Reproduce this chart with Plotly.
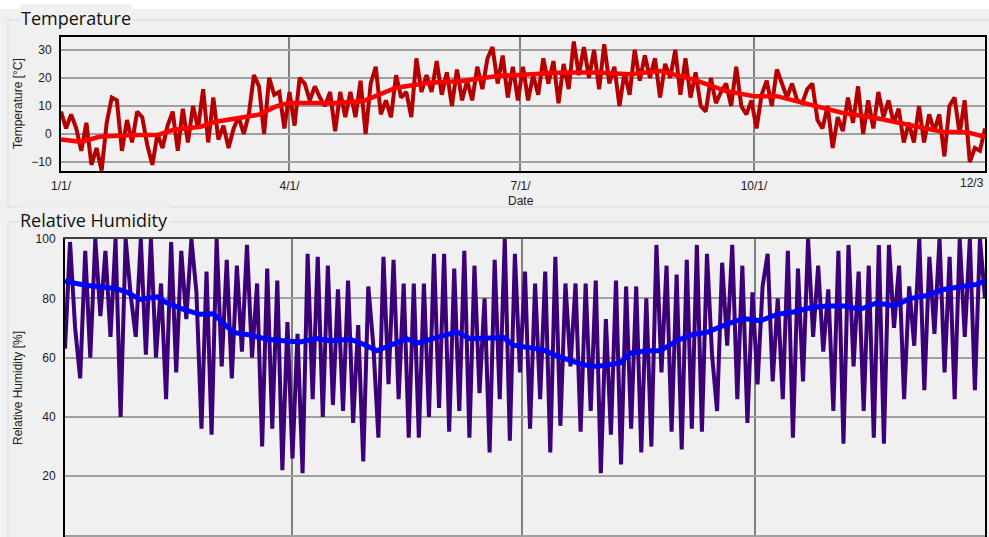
import pandas as pd
import plotly.graph_objects as go

# ---------------- data ----------------
BASE = "2011-01-01"
tick_dates = ["2011-01-01", "2011-04-01", "2011-07-01", "2011-10-01"]
tick_labels = ["1/1/", "4/1/", "7/1/", "10/1/"]

# raw daily temperature, sampled every 2 days from 1 Jan
temp_step_days = 2
temp_raw = [8, 2, 7, 2, -6, 4, -11, -5, -13, 4, 13, 12, -6, 5, -3, 8, 6, -4, -11, 0,
            -5, 3, 8, -6, 9, -3, 10, 2, 16, -3, 13,
            -2, 3, -5, 2, 6, 0, 7, 21, 17, 0, 20, 14, 15, 2, 15, 3, 20, 18, 12, 17,
            13, 10, 15, 1, 15, 6, 15, 6, 19, 0,
            18, 24, 7, 12, 6, 21, 13, 15, 6, 27, 15, 21, 15, 26, 14, 22, 10, 23, 12, 19,
            12, 24, 16, 27, 31, 18, 28, 13, 24, 12,
            24, 12, 21, 14, 27, 18, 26, 11, 25, 16, 33, 21, 31, 20, 30, 16, 32, 18, 24, 10,
            22, 14, 30, 19, 28, 20, 27, 13, 25, 20, 30,
            14, 27, 13, 22, 10, 8, 20, 11, 15, 18, 10, 24, 10, 7, 12, 2, 14, 19, 10, 23,
            18, 13, 18, 12, 11, 16, 18, 5, 2, 10,
            -5, 6, 1, 13, 4, 17, 0, 12, 2, 15, 6, 12, 4, 9, -3, 4, -3, 10, -3, 7,
            1, 7, -8, 10, 13, 0, 12, -10, -5, -6, 2]

temp_smooth_days = [0, 8, 15, 28, 38, 44, 55, 61, 70, 78, 85, 90, 101, 106, 119, 132, 145,
                    158, 172, 185, 198, 211, 224, 236, 249, 262, 273, 282, 295, 308, 321,
                    334, 347, 357, 364]
temp_smooth = [-2, -2.8, -1, -0.4, -0.4, 1.4, 2.6, 4.4, 5.7, 6.9, 9.9, 11.1, 11.1, 11, 11.7,
               16.5, 18.3, 18.9, 20.7, 21.3, 21.9, 21.9, 21.3, 22.5, 19.5, 15.3, 13.5, 13.5,
               10.5, 7.5, 5.7, 3.2, 0.8, 0.6, -1]

# raw relative humidity, sampled every 2 days from 1 Jan
rh_raw = [63, 99, 70, 53, 96, 60, 100, 74, 96, 67, 100, 40, 100, 81, 67, 100, 61, 100, 60, 85,
          46, 99, 55, 96, 73, 100, 82, 36, 89, 34, 100, 57, 93, 53, 91, 62, 98, 60, 85, 30,
          90, 36, 86, 22, 72, 26, 68, 21, 95, 46, 94, 40, 91,
          44, 83, 42, 86, 38, 71, 25, 84, 64, 33, 94, 51, 93, 46, 85, 33, 85, 33, 85, 40,
          95, 43, 95, 35, 90, 42, 96, 33, 91, 48, 80, 28, 93, 46, 100, 32, 95, 55, 89, 36,
          85, 46, 89, 28, 94, 37, 85, 57, 85, 35, 85, 42, 86, 21, 73, 34, 86, 24, 84, 36,
          84, 28, 80, 30, 98, 55,
          91, 35, 88, 29, 93, 36, 98, 35, 95, 61, 42, 92, 64, 98, 46, 91, 38, 82, 51, 84,
          95, 52, 80, 46, 96, 33, 90, 52, 100, 67, 91, 62, 83, 42, 96, 31, 98, 57, 89, 42,
          91, 33, 98, 31, 98, 70, 91, 46, 84, 64, 100, 49, 94, 68, 100, 55, 94, 46, 100, 67,
          100, 49, 100, 80]

rh_smooth_days = [0, 8.6, 13.9, 20.4, 24.4, 29.7, 36.3, 40.2, 46.8, 53.4, 58.7, 66.6, 73.2,
                  79.8, 86.4, 93, 99.6, 104.9, 112.8, 118.1, 123.4, 131.3, 135.2, 139.2,
                  144.5, 149.7, 155, 160.3, 166.9, 173.5, 177.4, 184, 189.3, 194.6, 201.2,
                  205.1, 210.4, 217, 219.7, 223.6, 230.2, 235.5, 242.1, 248.7, 254, 261.9,
                  268.5, 275.1, 281.7, 288.3, 294.9, 301.5, 308.1, 314.7, 321.3, 327.8,
                  334.4, 341, 347.6, 354.2, 360.8, 364]
rh_smooth = [85.8, 84.3, 83.9, 83.2, 82.1, 79.6, 80.5, 78.5, 76.3, 74.6, 74.8, 68.5, 67.6,
             66.2, 65.7, 65.3, 66.4, 65.7, 66.2, 64.5, 62.3, 65.1, 66.4, 64.9, 66.2, 67.3,
             68.7, 66.4, 66.4, 66.8, 64.2, 63.4, 62.6, 60.6, 58.9, 57.6, 57.0, 58.1, 58.2,
             61.5, 62.3, 62.3, 65.7, 67.9, 68.5, 71.3, 73.2, 72.4, 74.6, 75.4, 76.8, 77.4,
             77.4, 76.3, 78.5, 77.4, 79.9, 81, 83, 83.9, 84.7, 85.8]

# ---------------- build ----------------
base = pd.Timestamp(BASE)


def to_dates(days):
    return [base + pd.Timedelta(days=float(d)) for d in days]


temp_dates = to_dates(range(0, temp_step_days * len(temp_raw), temp_step_days))
rh_dates = to_dates(range(0, temp_step_days * len(rh_raw), temp_step_days))

W, H = 989, 537
BG = "#f0f0f0"


def px(x):
    return x / W


def py(y):
    return 1 - y / H


fig = go.Figure()
fig.add_trace(go.Scatter(x=temp_dates, y=temp_raw, mode="lines",
                         line=dict(color="#b40000", width=4), xaxis="x", yaxis="y",
                         hoverinfo="skip"))
fig.add_trace(go.Scatter(x=to_dates(temp_smooth_days), y=temp_smooth, mode="lines",
                         line=dict(color="#ff0000", width=4.5), xaxis="x", yaxis="y"))
fig.add_trace(go.Scatter(x=rh_dates, y=rh_raw, mode="lines",
                         line=dict(color="#3c0078", width=4), xaxis="x2", yaxis="y2",
                         hoverinfo="skip"))
fig.add_trace(go.Scatter(x=to_dates(rh_smooth_days), y=rh_smooth, mode="lines",
                         line=dict(color="#0000ff", width=5), xaxis="x2", yaxis="y2"))

xr = [base, base + pd.Timedelta(days=364)]
tickfont = dict(family="Liberation Sans, Arial, sans-serif", size=12, color="#202020")
grid = "#a0a0a0"

fig.update_layout(
    width=W, height=H, margin=dict(l=0, r=0, t=0, b=0, autoexpand=False),
    paper_bgcolor=BG, plot_bgcolor=BG, showlegend=False,
    xaxis=dict(domain=[px(61), px(985)], range=xr, anchor="y", automargin=False,
               tickvals=tick_dates, ticktext=tick_labels, tickfont=tickfont,
               showgrid=True, gridcolor="#808080", gridwidth=1.5,
               showline=True, linecolor="black", linewidth=2, mirror=True,
               ticks="", ticklabelstandoff=3, zeroline=False),
    yaxis=dict(domain=[py(171), py(37)], range=[-13.2, 34.6], anchor="x", automargin=False,
               tickvals=[-10, 0, 10, 20, 30], tickfont=tickfont,
               showgrid=True, gridcolor=grid, gridwidth=1.5,
               showline=True, linecolor="black", linewidth=2, mirror=True,
               ticks="", ticklabelstandoff=5, zeroline=False),
    xaxis2=dict(domain=[px(65), px(985)], range=xr, anchor="y2", automargin=False,
                tickvals=tick_dates, showticklabels=False,
                showgrid=True, gridcolor="#808080", gridwidth=1.5,
                showline=True, linecolor="#404040", linewidth=1.5, mirror=True,
                ticks="", zeroline=False),
    yaxis2=dict(domain=[0, py(239)], range=[-0.5, 100], anchor="x2", automargin=False,
                tickvals=[0, 20, 40, 60, 80, 100], tickfont=tickfont,
                showgrid=True, gridcolor=grid, gridwidth=1.5,
                showline=True, linecolor="black", linewidth=2, mirror=True,
                ticks="", ticklabelstandoff=5, zeroline=False),
)

box_col = "#d6dde3"
shapes = [
    dict(type="rect", xref="paper", yref="paper", x0=0, x1=1, y0=py(9), y1=1,
         fillcolor="white", line=dict(width=0), layer="below"),
    dict(type="rect", xref="paper", yref="paper", x0=px(8), x1=px(1000), y0=py(207), y1=py(20),
         fillcolor="rgba(0,0,0,0)", line=dict(color=box_col, width=1), layer="below"),
    dict(type="rect", xref="paper", yref="paper", x0=px(8), x1=px(1000), y0=py(560), y1=py(222),
         fillcolor="rgba(0,0,0,0)", line=dict(color=box_col, width=1), layer="below"),
]
fig.update_layout(shapes=shapes)

title_font = dict(family="Open Sans, Noto Sans, sans-serif", size=18, color="#101010")
axis_title_font = dict(family="Liberation Sans, Arial, sans-serif", size=12, color="#202020")
ann = [
    dict(text="Temperature", x=px(19), y=py(18), xanchor="left", yanchor="middle",
         font=title_font, bgcolor=BG, borderpad=1),
    dict(text="Relative Humidity", x=px(18), y=py(220), xanchor="left", yanchor="middle",
         font=title_font, bgcolor=BG, borderpad=1),
    dict(text="Temperature [°C]", x=px(18), y=py(104), textangle=-90,
         xanchor="center", yanchor="middle", font=axis_title_font),
    dict(text="Relative Humidity [%]", x=px(18), y=py(388), textangle=-90,
         xanchor="center", yanchor="middle", font=axis_title_font),
    dict(text="Date", x=px(521), y=py(201), xanchor="center", yanchor="middle",
         font=axis_title_font),
    dict(text="12/3", x=px(958), y=py(183), xanchor="left", yanchor="middle",
         font=tickfont),
]
for a in ann:
    a.update(xref="paper", yref="paper", showarrow=False)
fig.update_layout(annotations=ann)

fig.write_html("out.html", config={"displayModeBar": False},
               post_script="document.body.style.margin='0';document.body.style.overflow='hidden';")
